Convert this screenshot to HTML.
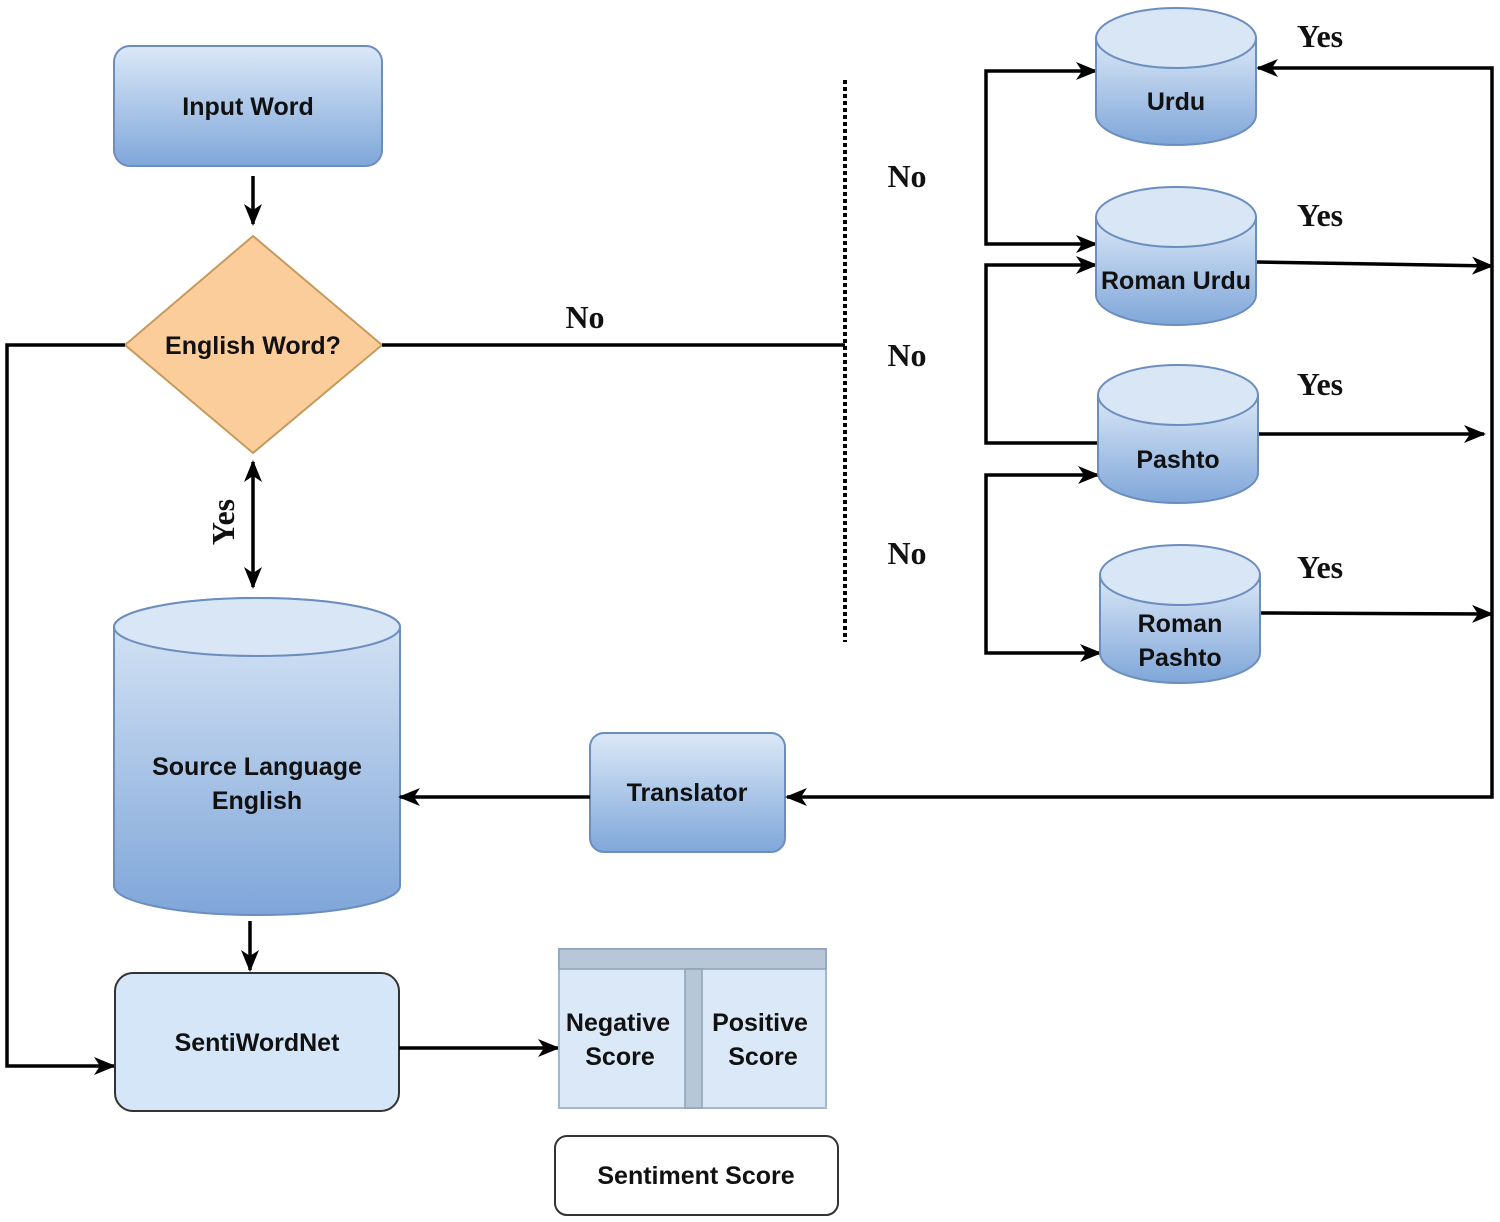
<!DOCTYPE html>
<html><head><meta charset="utf-8"><style>
html,body{margin:0;padding:0;background:#fff;}
svg{display:block;}
.t{font-family:"Liberation Sans",Arial,sans-serif;font-weight:bold;font-size:25px;fill:#111;text-anchor:middle;}
.s{font-family:"Liberation Serif",serif;font-weight:bold;font-size:32px;fill:#111;text-anchor:middle;}
.l{stroke:#000;stroke-width:3.5;fill:none;}
</style></head><body>
<svg width="1500" height="1222" viewBox="0 0 1500 1222" xmlns="http://www.w3.org/2000/svg">
<defs>
<linearGradient id="g" x1="0" y1="0" x2="0" y2="1"><stop offset="0" stop-color="#dbe8f7"/><stop offset="1" stop-color="#7fa7da"/></linearGradient>
<linearGradient id="gc" x1="0" y1="0" x2="0" y2="1"><stop offset="0" stop-color="#dae7f6"/><stop offset="1" stop-color="#7fa6d9"/></linearGradient>
<marker id="a" viewBox="0 0 22 18" refX="20" refY="9" markerWidth="22" markerHeight="18" orient="auto-start-reverse" markerUnits="userSpaceOnUse"><path d="M0,0 L22,9 L0,18 L6,9 Z" fill="#000"/></marker>
</defs>

<rect x="114" y="46" width="268" height="120" rx="16" fill="url(#g)" stroke="#6c8ebf" stroke-width="2"/>
<text class="t" x="248" y="115">Input Word</text>
<line class="l" x1="253" y1="176" x2="253" y2="224" marker-end="url(#a)"/>

<polygon points="253,236 382,345 253,453 125,345" fill="#fbcd9b" stroke="#c69a5d" stroke-width="2"/>
<text class="t" x="253" y="354">English Word?</text>

<line class="l" x1="382" y1="345" x2="845" y2="345"/>
<text class="s" x="585" y="328">No</text>
<line x1="845" y1="80" x2="845" y2="642" stroke="#000" stroke-width="4" stroke-dasharray="4,3"/>
<text class="s" x="907" y="187">No</text>
<text class="s" x="907" y="366">No</text>
<text class="s" x="907" y="564">No</text>

<polyline class="l" points="125,345 7,345 7,1066 114,1066" marker-end="url(#a)"/>

<line class="l" x1="253" y1="462" x2="253" y2="587" marker-start="url(#a)" marker-end="url(#a)"/>
<text class="s" x="0" y="0" transform="translate(234,522) rotate(-90)">Yes</text>

<path d="M114,627 L114,886 A143,29 0 0 0 400,886 L400,627 A143,29 0 0 0 114,627 Z" fill="url(#gc)" stroke="#6c8ebf" stroke-width="2"/>
<ellipse cx="257" cy="627" rx="143" ry="29" fill="#d8e6f6" stroke="#6c8ebf" stroke-width="2"/>
<text class="t" x="257" y="775">Source Language</text>
<text class="t" x="257" y="809">English</text>
<line class="l" x1="250" y1="921" x2="250" y2="970" marker-end="url(#a)"/>

<rect x="115" y="973" width="284" height="138" rx="18" fill="#d4e6f8" stroke="#333" stroke-width="2"/>
<text class="t" x="257" y="1051">SentiWordNet</text>
<line class="l" x1="399" y1="1048" x2="558" y2="1048" marker-end="url(#a)"/>

<rect x="559" y="949" width="267" height="159" fill="#dbe8f7" stroke="#a4b7cc" stroke-width="2"/>
<rect x="559" y="949" width="267" height="20" fill="#b7c7d7" stroke="#8ea2b6" stroke-width="1.5"/>
<rect x="685" y="969" width="17" height="139" fill="#b7c7d7" stroke="#8ea2b6" stroke-width="1.5"/>
<text class="t" x="618" y="1031">Negative</text>
<text class="t" x="620" y="1065">Score</text>
<text class="t" x="760" y="1031">Positive</text>
<text class="t" x="763" y="1065">Score</text>

<rect x="555" y="1136" width="283" height="79" rx="12" fill="#fff" stroke="#333" stroke-width="2"/>
<text class="t" x="696" y="1184">Sentiment Score</text>

<rect x="590" y="733" width="195" height="119" rx="14" fill="url(#g)" stroke="#6c8ebf" stroke-width="2"/>
<text class="t" x="687" y="801">Translator</text>
<line class="l" x1="590" y1="797" x2="400" y2="797" marker-end="url(#a)"/>

<polyline class="l" points="1258,68 1492,68 1492,797 787,797" marker-start="url(#a)" marker-end="url(#a)"/>
<line class="l" x1="1256" y1="262" x2="1492" y2="266" marker-end="url(#a)"/>
<line class="l" x1="1258" y1="434" x2="1484" y2="434" marker-end="url(#a)"/>
<line class="l" x1="1260" y1="613" x2="1492" y2="614" marker-end="url(#a)"/>
<text class="s" x="1320" y="47">Yes</text>
<text class="s" x="1320" y="226">Yes</text>
<text class="s" x="1320" y="395">Yes</text>
<text class="s" x="1320" y="578">Yes</text>

<polyline class="l" points="1096,71 986,71 986,244 1096,244" marker-start="url(#a)" marker-end="url(#a)"/>
<polyline class="l" points="1096,265 986,265 986,443 1098,443" marker-start="url(#a)"/>
<polyline class="l" points="1098,475 986,475 986,653 1100,653" marker-start="url(#a)" marker-end="url(#a)"/>

<g stroke="#6c8ebf" stroke-width="2">
<path d="M1096,38 L1096,115 A80,30 0 0 0 1256,115 L1256,38 Z" fill="url(#gc)"/>
<ellipse cx="1176" cy="38" rx="80" ry="30" fill="#d8e6f6"/>
<path d="M1096,217 L1096,295 A80,30 0 0 0 1256,295 L1256,217 Z" fill="url(#gc)"/>
<ellipse cx="1176" cy="217" rx="80" ry="30" fill="#d8e6f6"/>
<path d="M1098,395 L1098,473 A80,30 0 0 0 1258,473 L1258,395 Z" fill="url(#gc)"/>
<ellipse cx="1178" cy="395" rx="80" ry="30" fill="#d8e6f6"/>
<path d="M1100,575 L1100,653 A80,30 0 0 0 1260,653 L1260,575 Z" fill="url(#gc)"/>
<ellipse cx="1180" cy="575" rx="80" ry="30" fill="#d8e6f6"/>
</g>
<text class="t" x="1176" y="110">Urdu</text>
<text class="t" x="1176" y="289">Roman Urdu</text>
<text class="t" x="1178" y="468">Pashto</text>
<text class="t" x="1180" y="632">Roman</text>
<text class="t" x="1180" y="666">Pashto</text>
</svg>
</body></html>
